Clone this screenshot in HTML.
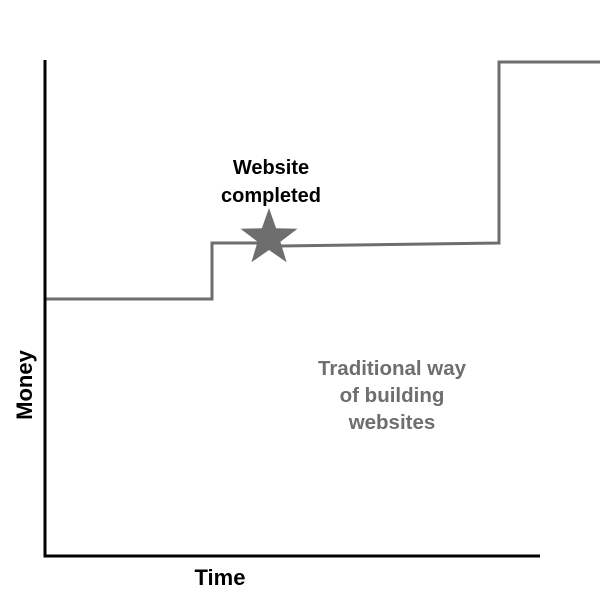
<!DOCTYPE html>
<html><head><style>
body{margin:0;background:#fff;}
.t{font-family:"Liberation Sans",sans-serif;font-weight:bold;}
</style></head><body>
<svg width="600" height="600" xmlns="http://www.w3.org/2000/svg">
<rect width="600" height="600" fill="#fff"/>
<polyline points="45,299 212,299 212,243 269,243 280,246 499,243 499,62 600,62" fill="none" stroke="#6e6e6e" stroke-width="3"/>
<polyline points="45,60 45,556 540,556" fill="none" stroke="#000" stroke-width="3"/>
<polygon points="269,208 276.1,228.3 297.5,228.7 280.4,241.7 286.6,262.3 269,250 251.4,262.3 257.6,241.7 240.5,228.7 261.9,228.3" fill="#6e6e6e"/>
<text class="t" x="271" y="174" font-size="20" text-anchor="middle" fill="#000">Website</text>
<text class="t" x="271" y="202" font-size="20" text-anchor="middle" fill="#000">completed</text>
<text class="t" x="392" y="375" font-size="20.5" text-anchor="middle" fill="#6e6e6e">Traditional way</text>
<text class="t" x="392" y="402" font-size="20.5" text-anchor="middle" fill="#6e6e6e">of building</text>
<text class="t" x="392" y="429" font-size="20.5" text-anchor="middle" fill="#6e6e6e">websites</text>
<text class="t" x="220" y="585" font-size="22" text-anchor="middle" fill="#000">Time</text>
<text class="t" x="0" y="0" font-size="22" text-anchor="middle" fill="#000" transform="translate(32,385) rotate(-90)">Money</text>
</svg>
</body></html>
